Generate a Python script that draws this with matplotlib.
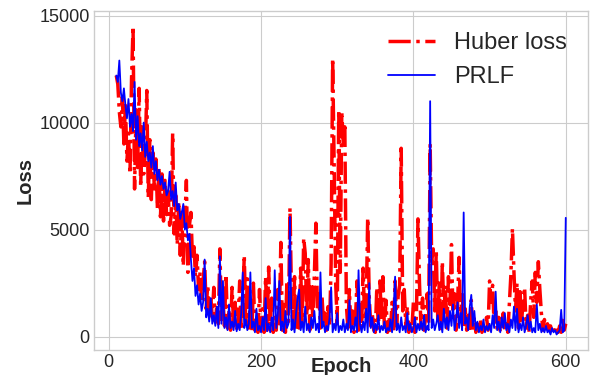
import numpy as np
import matplotlib
matplotlib.use('Agg')
import matplotlib.pyplot as plt

# epochs sampled every 2 epochs, 10 .. 600
epochs = np.arange(10, 601, 2)

# Huber loss values
huber = [
    12200, 11800, 10500, 9800, 11200, 9000, 10800, 8200, 9500, 7600,
    12000, 14500, 6900, 10600, 7900, 11600, 7000, 9800, 7600, 8600,
    11500, 6500, 9200, 6400, 8600, 6900, 8300, 6000, 7900, 5600,
    7600, 5400, 7300, 5700, 6800, 5200, 5600, 9500, 4800, 6600,
    4300, 6300, 3800, 5800, 3300, 5400, 7300, 3000, 5200, 5800,
    3600, 4200, 2800, 3800, 2200, 3000, 1600, 2600, 3500, 1300,
    2400, 1100, 1900, 900, 2300, 700, 1500, 600, 4100, 800,
    1800, 500, 2900, 400, 1200, 300, 2300, 500, 1600, 300,
    900, 2600, 300, 1500, 3800, 600, 2700, 400, 1700, 250,
    2500, 300, 900, 200, 2200, 400, 1300, 200, 2800, 300,
    3250, 500, 1800, 200, 900, 300, 2200, 600, 4400, 300,
    1500, 200, 2600, 700, 6000, 1900, 400, 2800, 300, 1600,
    400, 3200, 600, 4600, 3900, 1000, 3600, 300, 2500, 800,
    2900, 5300, 1200, 2000, 400, 1900, 600, 1100, 300, 1400,
    500, 3400, 13000, 8000, 2500, 600, 10600, 3000, 10500, 9000,
    9800, 1500, 400, 2200, 300, 1200, 200, 800, 2600, 300,
    1500, 400, 3200, 800, 1200, 5550, 1900, 500, 1100, 300,
    200, 2300, 400, 2600, 900, 2800, 300, 1700, 200, 900,
    300, 1600, 200, 2600, 500, 1900, 2400, 8800, 1200, 2200,
    500, 1400, 200, 700, 300, 1600, 200, 1000, 5500, 2500,
    400, 1800, 300, 900, 2000, 600, 9000, 3500, 4100, 1200,
    4000, 800, 2500, 300, 3500, 1100, 2400, 400, 2800, 1500,
    4300, 900, 2000, 300, 1500, 3700, 700, 2100, 400, 1300,
    300, 1000, 200, 1700, 400, 900, 200, 600, 300, 800,
    200, 500, 200, 900, 300, 2600, 1600, 2400, 500, 1200,
    300, 900, 200, 700, 1100, 300, 600, 200, 1600, 2900,
    5050, 3000, 1200, 2500, 400, 2100, 600, 1800, 2300, 400,
    1000, 200, 1700, 2600, 900, 3000, 1600, 3500, 2200, 1100,
    300, 800, 200, 600, 300, 500, 200, 400, 100, 300,
    200, 500, 200, 900, 300, 600,
]

# PRLF values
prlf = [
    12200, 11900, 12900, 11400, 11000, 11600, 10800, 10200, 11100, 9800,
    10400, 9600, 11900, 9200, 10300, 8900, 9500, 8700, 10000, 8400,
    9100, 8200, 8600, 7900, 8900, 7600, 8200, 7300, 7800, 7100,
    7500, 6900, 7200, 6600, 6800, 7700, 6400, 6800, 6100, 7200,
    5900, 6200, 5500, 5800, 6200, 5000, 5300, 4500, 4800, 3600,
    2600, 3200, 1900, 2400, 1500, 2000, 1200, 1600, 3600, 900,
    1300, 700, 1800, 600, 1000, 500, 1400, 400, 3750, 600,
    2600, 400, 900, 300, 1500, 400, 700, 300, 1200, 250,
    600, 300, 1100, 3000, 400, 800, 300, 600, 3000, 400,
    700, 200, 1300, 300, 500, 200, 900, 300, 1800, 250,
    600, 200, 900, 300, 3100, 400, 1000, 2600, 300, 700,
    200, 1200, 400, 600, 5600, 300, 800, 200, 1100, 1800,
    2200, 300, 700, 200, 1400, 300, 600, 200, 900, 400,
    1200, 300, 600, 200, 3000, 400, 700, 200, 500, 300,
    900, 2300, 200, 600, 300, 1100, 200, 500, 300, 800,
    200, 600, 300, 1700, 200, 500, 300, 900, 200, 3100,
    600, 200, 700, 300, 1300, 200, 2500, 400, 900, 200,
    600, 300, 1000, 200, 500, 300, 700, 200, 400, 300,
    800, 200, 1200, 2800, 300, 600, 200, 900, 300, 500,
    200, 1100, 300, 600, 200, 400, 900, 200, 600, 300,
    700, 300, 1000, 200, 500, 300, 11000, 400, 800, 300,
    600, 1000, 300, 700, 200, 1300, 400, 900, 300, 1200,
    500, 1500, 300, 800, 1600, 400, 1100, 300, 5800, 600,
    900, 300, 1400, 1950, 500, 1200, 300, 700, 200, 500,
    300, 800, 200, 500, 300, 600, 200, 1000, 400, 2100,
    300, 700, 200, 900, 400, 1100, 300, 600, 200, 800,
    400, 1400, 300, 1300, 200, 600, 300, 900, 200, 500,
    1000, 300, 700, 200, 400, 200, 1500, 300, 600, 200,
    400, 200, 500, 200, 300, 100, 400, 200, 300, 100,
    200, 300, 1250, 200, 300, 5550,
]

plt.style.use('seaborn-v0_8-whitegrid')
plt.rcParams['font.family'] = ['Liberation Sans', 'DejaVu Sans']

fig = plt.figure(figsize=(5.9, 3.75), dpi=100)
ax = fig.add_axes([0.159, 0.067, 0.838, 0.904])

ax.plot(epochs, huber, color='red', linestyle='-.', linewidth=2.5, label='Huber loss')
ax.plot(epochs, prlf, color='blue', linewidth=1.3, label='PRLF')

ax.set_xticks([0, 200, 400, 600])
ax.set_yticks([0, 5000, 10000, 15000])
ax.tick_params(labelsize=13, colors='#262626', pad=3)
for s in ax.spines.values():
    s.set_visible(True)
    s.set_color('#cccccc')

ax.set_xlabel('Epoch', fontsize=14.5, fontweight='bold', color='#262626')
ax.set_ylabel('Loss', fontsize=14.5, fontweight='bold', color='#262626')
ax.xaxis.set_label_coords(0.5, -0.02)
ax.yaxis.set_label_coords(-0.12, 0.5)

ax.legend(loc='upper right', fontsize=17, frameon=False)

plt.savefig('out.png', dpi=100)
